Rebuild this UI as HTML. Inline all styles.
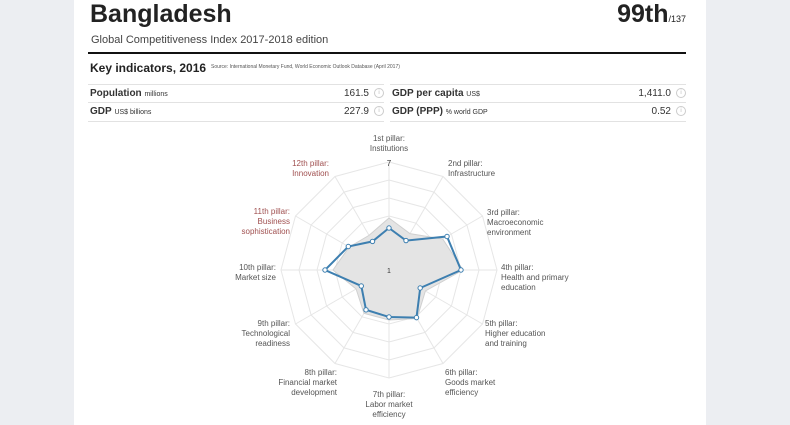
<!DOCTYPE html>
<html><head><style>
body{margin:0;width:790px;height:425px;background:#eceef2;font-family:"Liberation Sans",sans-serif;overflow:hidden;position:relative}
.card{position:absolute;left:74px;top:0;width:632px;height:425px;background:#fff}
.a{position:absolute;white-space:nowrap;color:#222}
.row{position:absolute;height:18px;border-top:1px solid #e2e2e2;font-size:10px;color:#333}
.i{display:inline-block;width:8px;height:8px;border:1px solid #ccc;border-radius:50%;font-size:6px;color:#bbb;text-align:center;line-height:8px;vertical-align:middle;margin-left:5px}
</style></head><body>
<div class="card"></div>
<div class="a" style="left:90px;top:0px;font-size:25px;font-weight:bold">Bangladesh</div>
<div class="a" style="right:104px;top:0px;font-size:25px;font-weight:bold">99th<span style="font-size:9px;font-weight:normal">/137</span></div>
<div class="a" style="left:91px;top:34px;font-size:11px;color:#444">Global Competitiveness Index 2017-2018 edition</div>
<div style="position:absolute;left:88px;top:52px;width:598px;height:2px;background:#111"></div>
<div class="a" style="left:90px;top:61px;font-size:12px;font-weight:bold">Key indicators, 2016</div>
<div class="a" style="left:211px;top:64px;font-size:5px;color:#555">Source: International Monetary Fund, World Economic Outlook Database (April 2017)</div>
<div class="row" style="left:88px;top:84px;width:296px"><span style="position:absolute;left:2px;top:3px"><b>Population</b> <span style="font-size:7px">millions</span></span><span style="position:absolute;right:0;top:3px">161.5<span class="i">i</span></span></div>
<div class="row" style="left:88px;top:102px;width:296px;border-bottom:1px solid #e2e2e2"><span style="position:absolute;left:2px;top:3px"><b>GDP</b> <span style="font-size:7px">US$ billions</span></span><span style="position:absolute;right:0;top:3px">227.9<span class="i">i</span></span></div>
<div class="row" style="left:390px;top:84px;width:296px"><span style="position:absolute;left:2px;top:3px"><b>GDP per capita</b> <span style="font-size:7px">US$</span></span><span style="position:absolute;right:0;top:3px">1,411.0<span class="i">i</span></span></div>
<div class="row" style="left:390px;top:102px;width:296px;border-bottom:1px solid #e2e2e2"><span style="position:absolute;left:2px;top:3px"><b>GDP (PPP)</b> <span style="font-size:7px">% world GDP</span></span><span style="position:absolute;right:0;top:3px">0.52<span class="i">i</span></span></div>
<svg width="790" height="425" style="position:absolute;left:0;top:0" font-family="Liberation Sans,sans-serif" font-size="8" fill="#555">
<g id="g"></g>
<text x="389" y="166" text-anchor="middle" font-size="8" fill="#333">7</text>
<text x="389" y="273" text-anchor="middle" font-size="7" fill="#333">1</text>
<g text-anchor="middle"><text x="389" y="141">1st pillar:</text><text x="389" y="151">Institutions</text>
<text x="389" y="397">7th pillar:</text><text x="389" y="407">Labor market</text><text x="389" y="417">efficiency</text></g>
<g text-anchor="start"><text x="448" y="166">2nd pillar:</text><text x="448" y="176">Infrastructure</text>
<text x="487" y="215">3rd pillar:</text><text x="487" y="225">Macroeconomic</text><text x="487" y="235">environment</text>
<text x="501" y="270">4th pillar:</text><text x="501" y="280">Health and primary</text><text x="501" y="290">education</text>
<text x="485" y="326">5th pillar:</text><text x="485" y="336">Higher education</text><text x="485" y="346">and training</text>
<text x="445" y="375">6th pillar:</text><text x="445" y="385">Goods market</text><text x="445" y="395">efficiency</text></g>
<g text-anchor="end"><text x="329" y="166" fill="#a05050">12th pillar:</text><text x="329" y="176" fill="#a05050">Innovation</text>
<text x="290" y="214" fill="#a05050">11th pillar:</text><text x="290" y="224" fill="#a05050">Business</text><text x="290" y="234" fill="#a05050">sophistication</text>
<text x="276" y="270">10th pillar:</text><text x="276" y="280">Market size</text>
<text x="290" y="326">9th pillar:</text><text x="290" y="336">Technological</text><text x="290" y="346">readiness</text>
<text x="337" y="375">8th pillar:</text><text x="337" y="385">Financial market</text><text x="337" y="395">development</text></g>
</svg>
<script>
var cx=389,cy=270,s='';
function pt(i,r){var a=-Math.PI/2+i*Math.PI/6;return [cx+r*Math.cos(a),cy+r*Math.sin(a)];}
function poly(rs){return rs.map(function(r,i){return pt(i,r).map(function(v){return v.toFixed(1)}).join(',')}).join(' ');}
for(var k=1;k<=6;k++){var r=k*18;s+='<polygon points="'+poly(Array(12).fill(r))+'" fill="none" stroke="#e6e6e6" stroke-width="1"/>';}
for(var i=0;i<12;i++){var p=pt(i,108);s+='<line x1="'+cx+'" y1="'+cy+'" x2="'+p[0]+'" y2="'+p[1]+'" stroke="#e6e6e6"/>';}
var avg=[52,42,62,74,42,56,50,50,38,56,46,40];
s+='<polygon points="'+poly(avg)+'" fill="#e4e4e4" stroke="#d0d0d0"/>';
var d=[42,34,67,72,36,55,47,46,32,64,47,33];
s+='<polygon points="'+poly(d)+'" fill="none" stroke="#3d7fb0" stroke-width="2"/>';
d.forEach(function(r,i){var p=pt(i,r);s+='<circle cx="'+p[0]+'" cy="'+p[1]+'" r="2.2" fill="#fff" stroke="#3d7fb0" stroke-width="1"/>';});
document.getElementById('g').innerHTML=s;
</script>
</body></html>
